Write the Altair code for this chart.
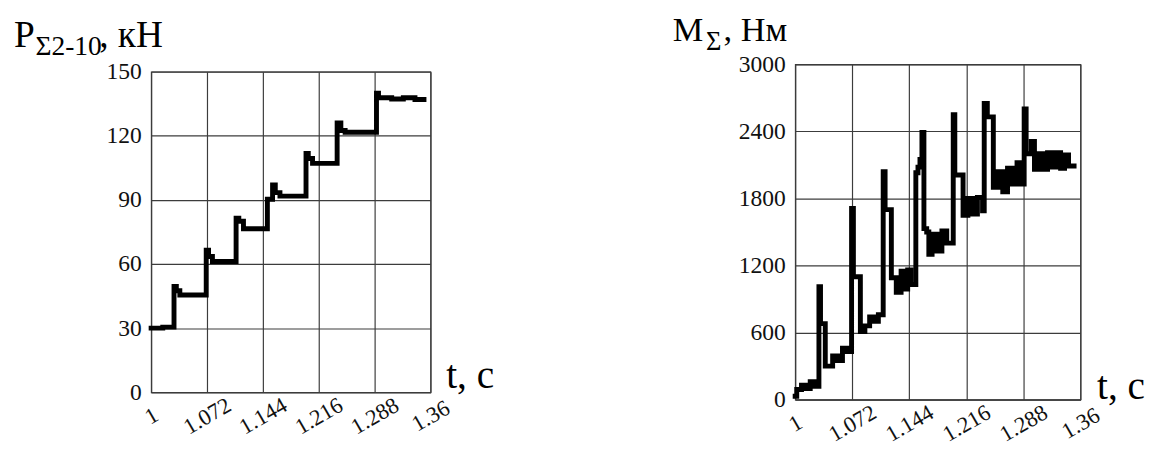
import altair as alt
import pandas as pd

# ---------------- data ----------------
# Left panel: P_Σ2-10, kN  versus t, s  (step curve)
p_t = [1.000, 1.015, 1.0295, 1.0325, 1.037, 1.071, 1.074, 1.079, 1.1095, 1.113,
       1.119, 1.1498, 1.1565, 1.160, 1.166, 1.1996, 1.2025, 1.208, 1.2397, 1.2445,
       1.250, 1.2904, 1.293, 1.310, 1.325, 1.340, 1.3516]
p_v = [30.0, 30.5, 49.5, 47.5, 45.5, 66.5, 63.5, 61.2, 81.5, 80.0,
       76.5, 90.3, 97.0, 93.4, 91.8, 111.7, 109.4, 107.1, 126.0, 122.5,
       121.7, 140.0, 137.8, 137.2, 137.8, 137.0, 137.0]

# Right panel: M_Σ, Нм  versus t, s  (step curve)
m_t = [1.000, 1.002, 1.008, 1.014, 1.019, 1.024, 1.030, 1.032, 1.038, 1.0473,
       1.0535, 1.0597, 1.0658, 1.0712, 1.0735, 1.0823, 1.088, 1.094, 1.100, 1.105,
       1.1111, 1.1135, 1.1214, 1.1276, 1.1337, 1.1378, 1.142, 1.146, 1.1523, 1.155,
       1.1575, 1.1600, 1.1625, 1.1660, 1.1687, 1.1728, 1.1790, 1.1852, 1.1913, 1.1995,
       1.2015, 1.2119, 1.2180, 1.2242, 1.2300, 1.2365, 1.2386, 1.2425, 1.2501, 1.2560,
       1.2620, 1.2680, 1.2740, 1.2800, 1.2860, 1.2890, 1.2915, 1.2980, 1.3020, 1.3075,
       1.3130, 1.3185, 1.3240, 1.3295, 1.3350, 1.3400, 1.3450, 1.3520]
m_v = [30, 90, 130, 100, 160, 120, 1010, 680, 300, 390,
       350, 460, 430, 1710, 1100, 610, 660, 740, 700, 760,
       2040, 1700, 1090, 960, 1150, 990, 1160, 1030, 2030, 2080,
       2150, 2390, 1530, 1500, 1300, 1480, 1330, 1510, 1400, 2550,
       2010, 1650, 1800, 1660, 1810, 1690, 2650, 2530, 1900, 2040,
       1860, 2070, 1930, 2120, 1930, 2600, 2200, 2310, 2060, 2200,
       2060, 2210, 2080, 2210, 2070, 2190, 2090, 2090]

x_ticks = [1, 1.072, 1.144, 1.216, 1.288, 1.36]
p_ticks = [0, 30, 60, 90, 120, 150]
m_ticks = [0, 600, 1200, 1800, 2400, 3000]

FONT = "Liberation Serif"
FONT_EXPR = {"expr": "'Liberation Serif'"}
GRID = "#3c3c3c"


def x_axis():
    return alt.Axis(values=x_ticks, format=".3~f", labelAngle=330, labelAlign="center",
                    labelBaseline="middle", labelPadding=24, tickSize=0, labelFlush=False,
                    labelOverlap=False, labelFont=FONT_EXPR, labelFontSize={"expr": "23"},
                    labelColor="#111111", grid=True, gridColor=GRID, gridOpacity=1,
                    gridWidth=1.2, domainColor=GRID, title=None)


def y_axis(vals):
    return alt.Axis(values=vals, format="d", labelPadding=10, tickSize=0, labelFlush=False,
                    labelOverlap=False, labelFont=FONT_EXPR, labelFontSize={"expr": "24"},
                    labelColor="#111111", grid=True, gridColor=GRID, gridOpacity=1,
                    gridWidth=1.2, domainColor=GRID, title=None)


def txt(s, x, y, size):
    return alt.Chart(pd.DataFrame({"s": [s]})).mark_text(
        align="left", baseline="alphabetic", font=FONT, fontSize=size, color="black"
    ).encode(x=alt.value(x), y=alt.value(y), text="s:N")


def step_line(t, v, ymax, ticks):
    return alt.Chart(pd.DataFrame({"t": t, "v": v})).mark_line(
        interpolate="step-after", color="black", strokeWidth=5, strokeJoin="miter",
        strokeCap="square"
    ).encode(
        x=alt.X("t:Q", scale=alt.Scale(domain=[1, 1.36], nice=False, zero=False), axis=x_axis()),
        y=alt.Y("v:Q", scale=alt.Scale(domain=[0, ymax], nice=False), axis=y_axis(ticks)),
    )


VIEW = alt.ViewBackground(stroke=GRID, strokeWidth=1.2)

left = alt.layer(
    step_line(p_t, p_v, 150, p_ticks),
    txt("P", -140, -25, 38),
    txt("Σ2-10", -118, -17, 28),
    txt(", кН", -53, -25, 38),
    txt("t, c", 301, 323, 40),
).properties(width=285, height=327, view=VIEW)

right = alt.layer(
    step_line(m_t, m_v, 3000, m_ticks),
    txt("M", -125, -24, 35),
    txt("Σ", -91, -15, 27),
    txt(", Нм", -73, -24, 35),
    txt("t, c", 308, 341, 40),
).properties(width=291, height=342, view=VIEW)

chart = alt.hconcat(left, right, spacing=180, center=True).properties(
    padding={"top": 0, "left": 5, "right": 5, "bottom": 0}
).configure(font=FONT)

chart.save("out.html", embed_options={"renderer": "svg", "actions": False})
